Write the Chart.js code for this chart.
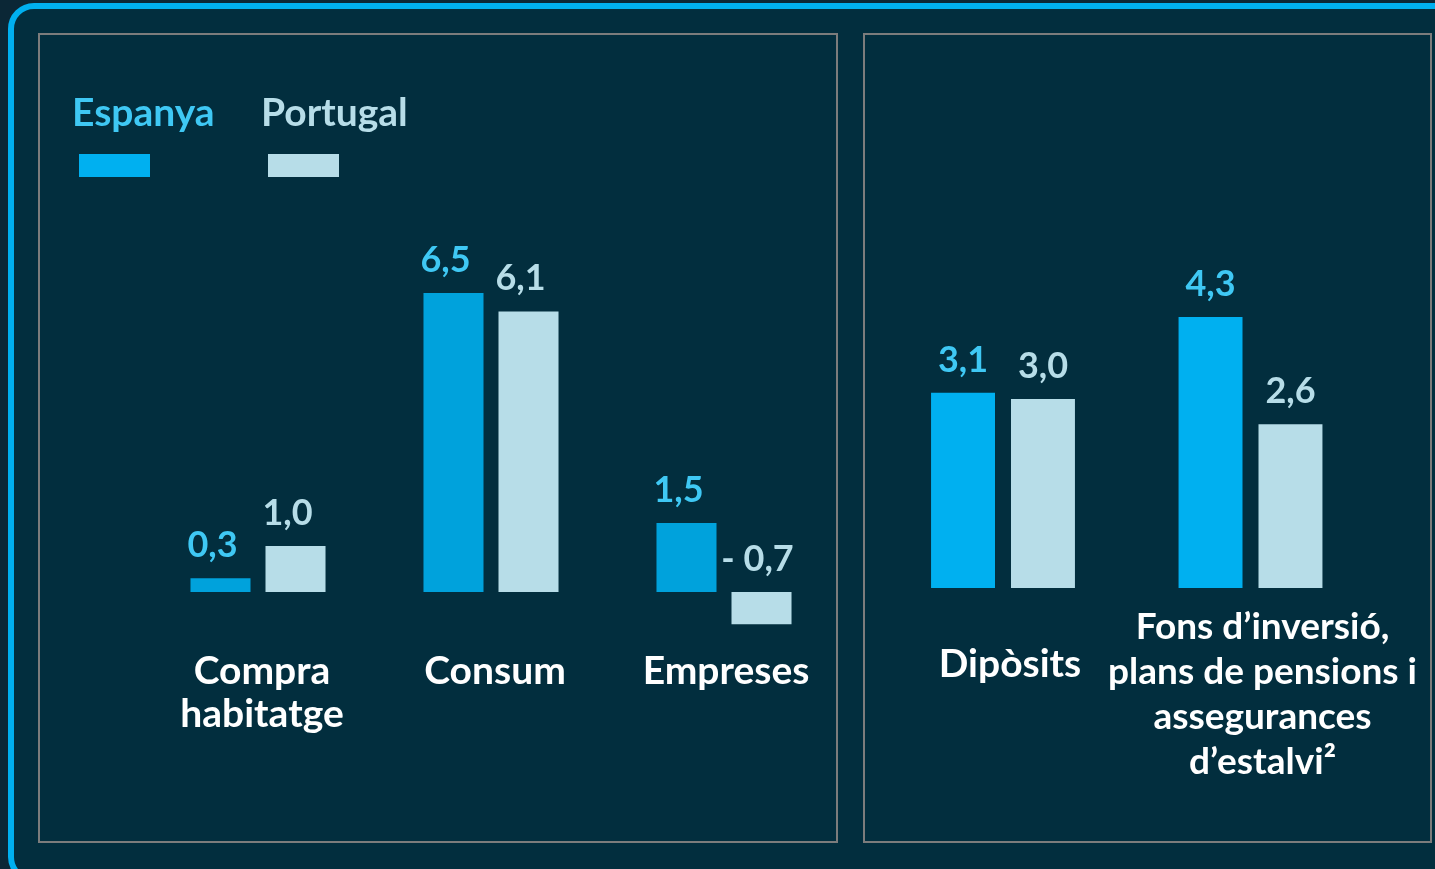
<!DOCTYPE html>
<html>
<head>
<meta charset="utf-8">
<script src="https://cdn.jsdelivr.net/npm/chart.js@4"></script>
<style>
    html, body { margin: 0; padding: 0; }
    body { width: 1435px; height: 869px; background: #0b2736; position: relative; overflow: hidden; font-family: Lato, sans-serif; }
    #frame { position: absolute; left: 8px; top: 3px; width: 1450px; height: 868px; border: 6px solid #00b0f0; border-radius: 26px; background: #022e3e; }
    .panel { position: absolute; border: 2px solid #7c7c7c; box-sizing: border-box; }
    #p1 { left: 38px; top: 33px; width: 800px; height: 810px; }
    #p2 { left: 863px; top: 33px; width: 569px; height: 810px; }
    canvas { position: absolute; top: 0; }
</style>
</head>
<body>
<div id="frame"></div>
<div class="panel" id="p1"></div>
<div class="panel" id="p2"></div>
<canvas id="leftChart" width="860" height="869" style="left:0px;width:860px;height:869px"></canvas>
<canvas id="rightChart" width="575" height="869" style="left:860px;width:575px;height:869px"></canvas>
<script>
// data
const seriesNames = ["Espanya", "Portugal"];
const leftCategories = [["Compra", "habitatge"], ["Consum"], ["Empreses"]];
const leftEspanya = [0.3, 6.5, 1.5];
const leftPortugal = [1.0, 6.1, -0.7];
const rightCategories = [["Dipòsits"], ["Fons d’inversió,", "plans de pensions i", "assegurances", "d’estalvi²"]];
const rightEspanya = [3.1, 4.3];
const rightPortugal = [3.0, 2.6];

const BLUE = "#00b0f0";
const BLUE_DARK = "#00a2dc";
const LIGHT = "#b7dde8";
const BLUE_TEXT = "#3fc8f4";

function fmt(v) {
    let s = Math.abs(v).toFixed(1).replace(".", ",");
    return v < 0 ? "- " + s : s;
}

// draws value labels, category labels and (optionally) the legend
const panelText = {
    id: "panelText",
    afterDatasetsDraw(chart, args, opts) {
        const ctx = chart.ctx;
        ctx.save();
        ctx.textAlign = "center";
        ctx.textBaseline = "alphabetic";
        // values above bars
        ctx.font = "bold 36px Lato";
        chart.data.datasets.forEach((ds, i) => {
            const meta = chart.getDatasetMeta(i);
            ctx.fillStyle = i === 0 ? BLUE_TEXT : LIGHT;
            meta.data.forEach((el, j) => {
                const top = Math.min(el.y, el.base);
                const shift = ds.data[j] < 0 ? opts.valueShift / 2 : opts.valueShift;
                ctx.fillText(fmt(ds.data[j]), el.x + shift, top - 21);
            });
        });
        // category labels
        ctx.fillStyle = "#ffffff";
        const xs = chart.scales.x;
        chart.data.labels.forEach((lines, j) => {
            ctx.font = "bold " + opts.catSize[j] + "px Lato";
            const cx = xs.getPixelForValue(j) + opts.catShift[j];
            lines.forEach((line, k) => {
                ctx.fillText(line, cx, opts.firstBaseline[j] + k * opts.lineHeight);
            });
        });
        // legend
        if (opts.legend) {
            ctx.textAlign = "left";
            ctx.font = "bold 39px Lato";
            const lx = [72, 261];
            const colors = [BLUE, LIGHT];
            const textColors = [BLUE_TEXT, LIGHT];
            seriesNames.forEach((name, i) => {
                ctx.fillStyle = textColors[i];
                ctx.fillText(name, lx[i], 126);
                ctx.fillStyle = colors[i];
                ctx.fillRect(lx[i] + 7, 154, 71, 23);
            });
        }
        ctx.restore();
    }
};

function barChart(id, labels, esp, por, espColor, yMin, yMax, padding, pct, textOpts) {
    return new Chart(document.getElementById(id), {
        type: "bar",
        data: {
            labels: labels,
            datasets: [
                { label: seriesNames[0], data: esp, backgroundColor: espColor },
                { label: seriesNames[1], data: por, backgroundColor: LIGHT }
            ]
        },
        options: {
            responsive: false,
            animation: false,
            layout: { padding: padding },
            datasets: { bar: { categoryPercentage: pct, barPercentage: 0.8 } },
            scales: {
                x: { display: false },
                y: { display: false, min: yMin, max: yMax }
            },
            plugins: {
                legend: { display: false },
                tooltip: { enabled: false },
                panelText: textOpts
            }
        },
        plugins: [panelText]
    });
}

barChart("leftChart", leftCategories, leftEspanya, leftPortugal, BLUE_DARK, -3, 10,
    { left: 141.5, right: 19.5, top: 132, bottom: 139 }, 0.644,
    { valueShift: -8, catSize: [39, 39, 39], catShift: [4, 4, 2], lineHeight: 43,
      firstBaseline: [684, 684, 684], legend: true });

barChart("rightChart", rightCategories, rightEspanya, rightPortugal, BLUE, -2, 8,
    { left: 19.25, right: 60.75, top: 84, bottom: 155 }, 0.646,
    { valueShift: 0, catSize: [39, 37], catShift: [7, 12], lineHeight: 45,
      firstBaseline: [677, 639], legend: false });
</script>
</body>
</html>
